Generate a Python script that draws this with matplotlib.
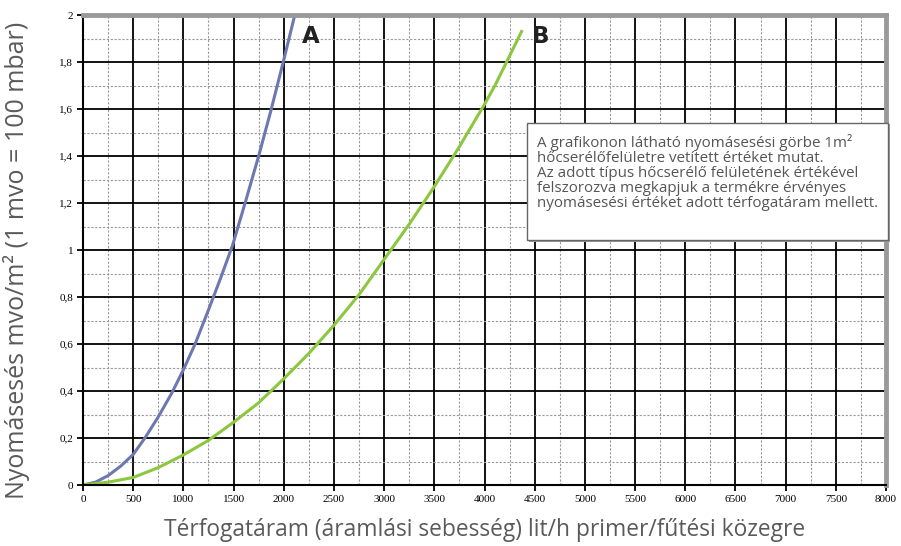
import matplotlib
matplotlib.use("Agg")
import matplotlib.pyplot as plt
from matplotlib.patches import Rectangle
from matplotlib.ticker import MultipleLocator, FuncFormatter

# Data
flow_A = [0, 125, 250, 375, 500, 617, 750, 883, 1000, 1117, 1250, 1375, 1490, 1615, 1750, 1870, 1995, 2110]
dp_A   = [0, 0.012, 0.04, 0.08, 0.13, 0.2, 0.29, 0.39, 0.49, 0.6, 0.745, 0.885, 1.02, 1.2, 1.4, 1.59, 1.8, 2.0]

flow_B = [0, 250, 500, 750, 1000, 1250, 1500, 1750, 2000, 2250, 2500, 2750, 3000, 3250, 3500, 3750, 4000, 4104, 4220, 4369]
dp_B   = [0, 0.012, 0.032, 0.074, 0.128, 0.19, 0.267, 0.35, 0.452, 0.56, 0.68, 0.81, 0.96, 1.11, 1.27, 1.44, 1.62, 1.70, 1.80, 1.93]

x_ticks = list(range(0, 8001, 500))
y_ticks = [0, 0.2, 0.4, 0.6, 0.8, 1.0, 1.2, 1.4, 1.6, 1.8, 2.0]

note = ("A grafikonon látható nyomásesési görbe 1m²\n"
        "hőcserélőfelületre vetített értéket mutat.\n"
        "Az adott típus hőcserélő felületének értékével\n"
        "felszorozva megkapjuk a termékre érvényes\n"
        "nyomásesési értéket adott térfogatáram mellett.")

fig = plt.figure(figsize=(9.01, 5.46), dpi=100)
ax = fig.add_axes([0.0921, 0.1117, 0.8913, 0.8608])

ax.set_xlim(0, 8000)
ax.set_ylim(0, 2)
ax.set_xticks(x_ticks)
ax.set_yticks(y_ticks)
ax.xaxis.set_minor_locator(MultipleLocator(250))
ax.yaxis.set_minor_locator(MultipleLocator(0.1))

def yfmt(v, pos):
    if abs(v - round(v)) < 1e-9:
        return str(int(round(v)))
    return f"{v:.1f}".replace(".", ",")
ax.yaxis.set_major_formatter(FuncFormatter(yfmt))

ax.grid(which="major", color="black", linewidth=1.3, linestyle="-")
ax.grid(which="minor", color="#999999", linewidth=0.8, linestyle=(0, (2, 1.5)))
ax.set_axisbelow(True)

for lab in ax.get_xticklabels() + ax.get_yticklabels():
    lab.set_fontfamily("Liberation Serif")
    lab.set_fontsize(8)
ax.tick_params(which="major", length=4, width=1.3, color="black", pad=3)
ax.tick_params(which="minor", length=0)

ax.spines["left"].set_color("black")
ax.spines["left"].set_linewidth(1.5)
ax.spines["bottom"].set_color("black")
ax.spines["bottom"].set_linewidth(1.5)
ax.spines["top"].set_color("#9a9a9a")
ax.spines["top"].set_linewidth(3.5)
ax.spines["right"].set_color("#9a9a9a")
ax.spines["right"].set_linewidth(3.5)

ax.plot(flow_A, dp_A, color="#6e78b0", linewidth=2.2, solid_joinstyle="round")
ax.plot(flow_B, dp_B, color="#8dc63f", linewidth=2.2, solid_joinstyle="round")

ax.text(2270, 1.91, "A", fontsize=16.5, fontweight="bold", color="#222222",
        family="DejaVu Sans", ha="center", va="center")
ax.text(4560, 1.91, "B", fontsize=16.5, fontweight="bold", color="#222222",
        family="DejaVu Sans", ha="center", va="center")

# note box
ax.add_patch(Rectangle((4440, 1.036), 3600, 0.50, transform=ax.transData,
                       facecolor="#9a9a9a", edgecolor="none", clip_on=False, zorder=4))
ax.add_patch(Rectangle((4422, 1.043), 3600, 0.497, transform=ax.transData,
                       facecolor="white", edgecolor="#666666", linewidth=1.0,
                       clip_on=False, zorder=5))
ax.text(4522, 1.33, note, fontsize=10.9, color="#555555", family="Open Sans",
        ha="left", va="center", linespacing=0.98, zorder=6)

ax.set_xlabel("Térfogatáram (áramlási sebesség) lit/h primer/fűtési közegre",
              fontsize=16.4, color="#5a5a5a", family="Open Sans")
ax.set_ylabel("Nyomásesés mvo/m² (1 mvo = 100 mbar)",
              fontsize=18.0, color="#5a5a5a", family="Open Sans")
ax.xaxis.set_label_coords(0.5, -0.07)
ax.yaxis.set_label_coords(-0.066, 0.477)

fig.savefig("out.png", dpi=100)
